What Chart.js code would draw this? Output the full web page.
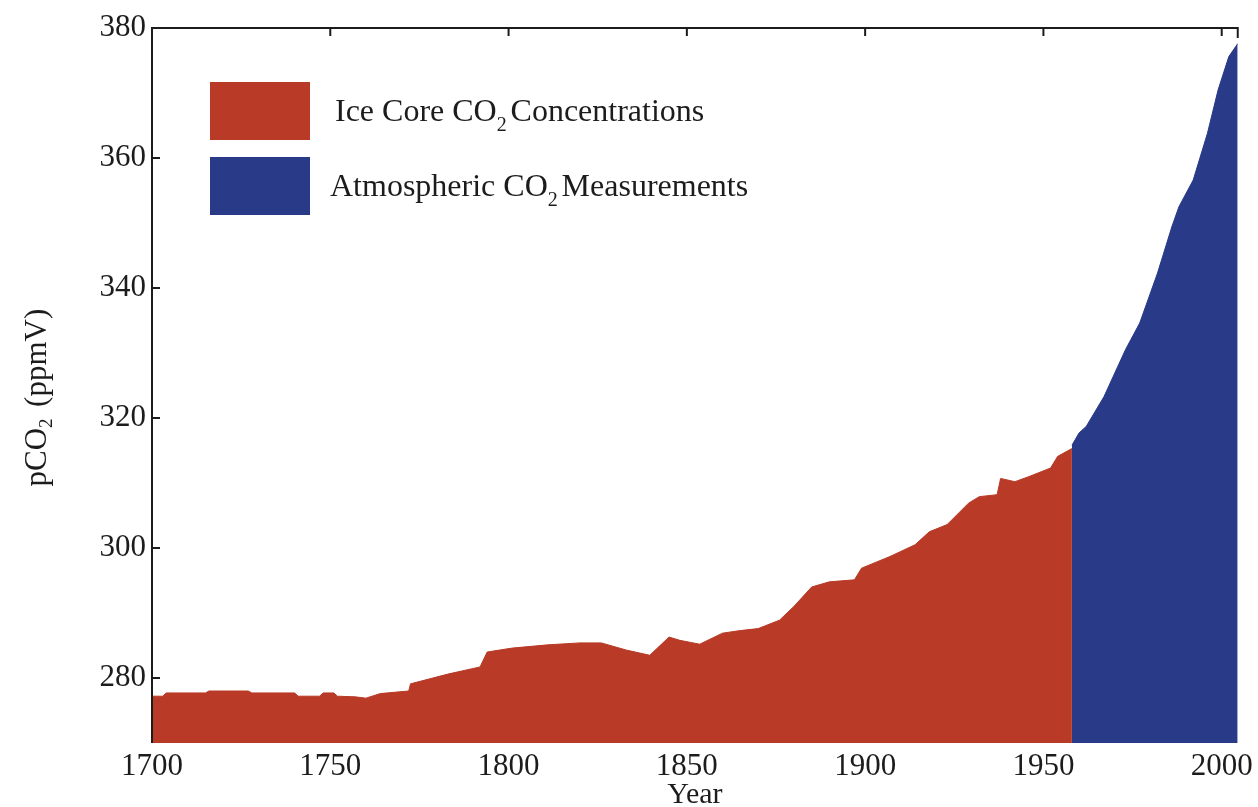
<!DOCTYPE html>
<html>
<head>
<meta charset="utf-8">
<script src="https://cdn.jsdelivr.net/npm/chart.js@4.4.0/dist/chart.umd.min.js"></script>
<style>
html, body { margin: 0; padding: 0; background: #fff; }
</style>
</head>
<body>
<canvas id="co2Chart" width="1258" height="807"></canvas>
<script>
// Ice core record (years, ppmV)
const iceYears = [1700, 1703, 1704, 1715, 1716, 1727, 1728, 1740, 1741, 1747, 1748, 1751, 1752, 1757, 1760, 1764, 1772, 1772.5,
    1783, 1792, 1794, 1801, 1811, 1820, 1826, 1833, 1839.6, 1845, 1848, 1853.6, 1860, 1865, 1870, 1876, 1880, 1885,
    1890, 1897, 1899, 1907, 1914, 1918, 1923, 1929, 1932, 1937, 1938, 1942, 1946, 1952, 1954, 1958];
const iceValues = [277.2, 277.2, 277.7, 277.7, 278.0, 278.0, 277.7, 277.7, 277.2, 277.2, 277.7, 277.7, 277.2, 277.1, 276.9, 277.6, 278.0, 279.1,
    280.6, 281.7, 284.0, 284.6, 285.1, 285.4, 285.4, 284.3, 283.5, 286.3, 285.8, 285.2, 286.9, 287.3, 287.6, 288.9, 291.0, 294.0,
    294.8, 295.1, 296.9, 298.7, 300.5, 302.5, 303.6, 306.9, 307.9, 308.2, 310.7, 310.2, 311.0, 312.3, 314.1, 315.3];

// Atmospheric measurements
const atmYears = [1958, 1960, 1962, 1967, 1973, 1977, 1982, 1986, 1988, 1992, 1996, 1999, 2002, 2004.5];
const atmValues = [315.8, 317.7, 318.7, 323.3, 330.5, 334.6, 342.3, 349.4, 352.5, 356.6, 363.8, 370.5, 375.6, 377.6];

const xTicks = [1700, 1750, 1800, 1850, 1900, 1950, 2000];
const yTicks = [280, 300, 320, 340, 360, 380];
const legendLabels = [
    ['Ice Core CO', '2', 'Concentrations'],
    ['Atmospheric CO', '2', 'Measurements']
];

const iceColor = '#b83a27';
const atmColor = '#283a88';
const inkColor = '#1c1c1c';
const serif = "'Liberation Serif', 'Times New Roman', serif";

// draws text with a subscript "2" in the middle
function drawSubText(ctx, parts, x, y, size) {
    ctx.font = size + 'px ' + serif;
    ctx.fillText(parts[0], x, y);
    let w = ctx.measureText(parts[0]).width;
    ctx.font = Math.round(size * 0.62) + 'px ' + serif;
    ctx.fillText(parts[1], x + w, y + size * 0.3);
    w += ctx.measureText(parts[1]).width + size * 0.12;
    ctx.font = size + 'px ' + serif;
    ctx.fillText(parts[2], x + w, y);
}

const framePlugin = {
    id: 'frame',
    afterDatasetsDraw(chart) {
        const {ctx, chartArea: a, scales: {x, y}} = chart;
        ctx.save();
        ctx.strokeStyle = inkColor;
        ctx.lineWidth = 2;
        ctx.beginPath();
        ctx.moveTo(a.left, a.bottom);
        ctx.lineTo(a.left, a.top);
        ctx.lineTo(a.right, a.top);
        ctx.lineTo(a.right, a.top + 10);
        xTicks.forEach(v => {
            const px = x.getPixelForValue(v);
            ctx.moveTo(px, a.top);
            ctx.lineTo(px, a.top + 8);
        });
        yTicks.forEach(v => {
            const py = y.getPixelForValue(v);
            ctx.moveTo(a.left, py);
            ctx.lineTo(a.left + 8, py);
        });
        ctx.stroke();
        ctx.restore();
    }
};

const legendPlugin = {
    id: 'co2Legend',
    afterDraw(chart) {
        const {ctx, chartArea: a} = chart;
        const colors = [iceColor, atmColor];
        ctx.save();
        legendLabels.forEach((parts, i) => {
            const top = a.top + 54 + i * 75;
            ctx.fillStyle = colors[i];
            ctx.fillRect(a.left + 58, top, 100, 58);
            ctx.fillStyle = inkColor;
            ctx.textBaseline = 'alphabetic';
            drawSubText(ctx, parts, a.left + 183 - i * 5, top + 39, 32);
        });

        // y axis title, rotated
        ctx.translate(38, (a.top + a.bottom) / 2 + 14);
        ctx.rotate(-Math.PI / 2);
        ctx.fillStyle = inkColor;
        ctx.textBaseline = 'middle';
        ctx.font = '31px ' + serif;
        const wMain = ctx.measureText('pCO (ppmV)').width;
        ctx.font = '19px ' + serif;
        const wSub = ctx.measureText('2').width;
        drawSubText(ctx, ['pCO', '2', ' (ppmV)'], -(wMain + wSub) / 2, 0, 31);
        ctx.restore();
    }
};

const chart = new Chart(document.getElementById('co2Chart'), {
    type: 'line',
    data: {
        datasets: [{
            label: 'Ice Core CO2 Concentrations',
            data: iceYears.map((yr, i) => ({x: yr, y: iceValues[i]})),
            backgroundColor: iceColor,
            borderColor: iceColor,
            borderWidth: 1,
            pointRadius: 0,
            tension: 0,
            fill: 'start'
        }, {
            label: 'Atmospheric CO2 Measurements',
            data: atmYears.map((yr, i) => ({x: yr, y: atmValues[i]})),
            backgroundColor: atmColor,
            borderColor: atmColor,
            borderWidth: 1,
            pointRadius: 0,
            tension: 0,
            fill: 'start'
        }]
    },
    options: {
        responsive: false,
        animation: false,
        layout: {padding: {top: 28, right: 20, left: 0, bottom: 0}},
        scales: {
            x: {
                type: 'linear',
                min: 1700,
                max: 2004.5,
                afterBuildTicks: s => { s.ticks = xTicks.map(v => ({value: v})); },
                afterFit: s => { s.height = 64; },
                grid: {display: false, drawTicks: false},
                border: {display: false},
                ticks: {
                    color: inkColor,
                    padding: 5,
                    maxRotation: 0,
                    font: {family: serif, size: 31},
                    callback: v => String(v)
                },
                title: {
                    display: true,
                    text: 'Year',
                    color: inkColor,
                    padding: {top: 0, bottom: 0},
                    font: {family: serif, size: 30, lineHeight: 0.8}
                }
            },
            y: {
                min: 270,
                max: 380,
                afterBuildTicks: s => { s.ticks = yTicks.map(v => ({value: v})); },
                afterFit: s => { s.width = 152; },
                grid: {display: false, drawTicks: false},
                border: {display: false},
                ticks: {
                    color: inkColor,
                    padding: 6,
                    font: {family: serif, size: 31}
                }
            }
        },
        plugins: {
            legend: {display: false},
            tooltip: {enabled: false}
        }
    },
    plugins: [framePlugin, legendPlugin]
});
</script>
</body>
</html>
